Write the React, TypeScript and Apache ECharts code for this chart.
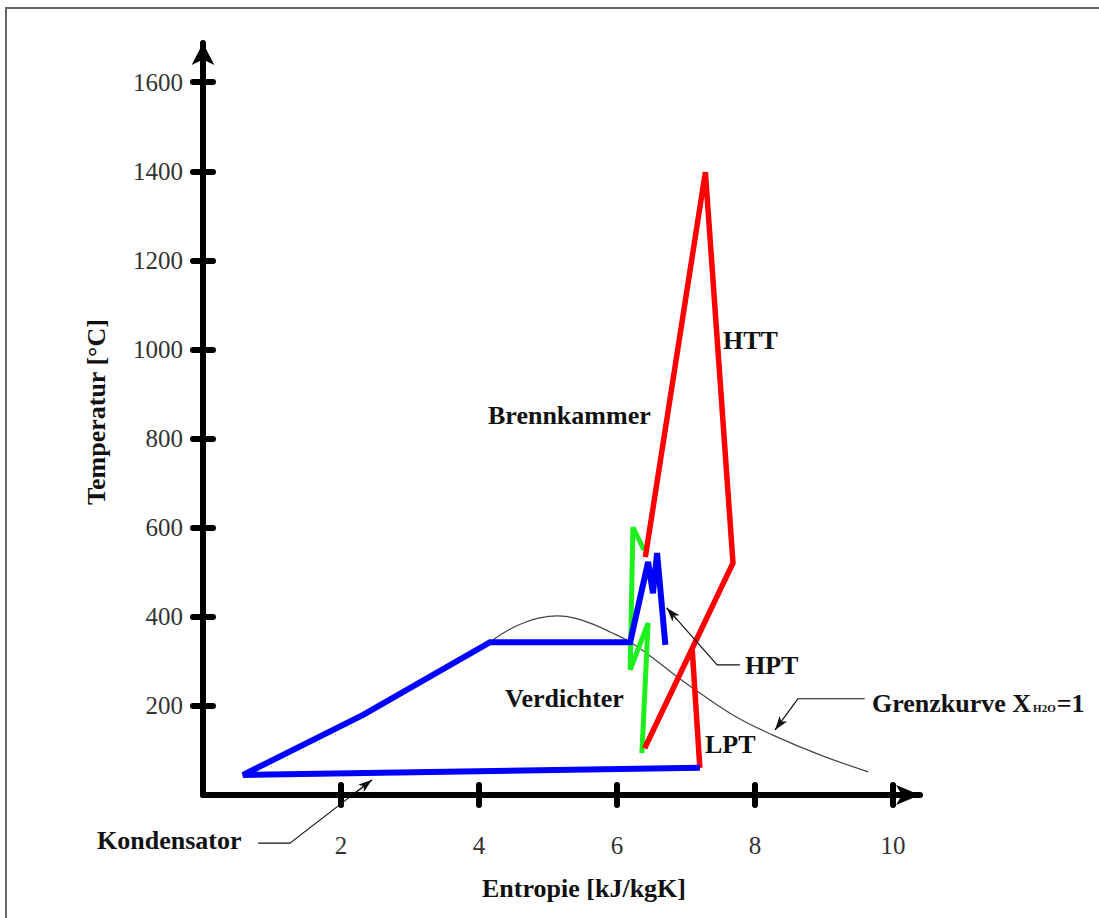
import React, { useEffect, useRef } from "react";
import * as echarts from "echarts";

// ---- Data (entropy s in kJ/kgK, temperature T in °C) ----
const xTicks = [2, 4, 6, 8, 10];
const yTicks = [200, 400, 600, 800, 1000, 1200, 1400, 1600];

// Steam cycle (blue)
const steamS = [7.2, 0.58, 2.32, 4.16, 6.19, 6.45, 6.52, 6.58, 6.7];
const steamT = [61, 45, 180, 343, 343, 523, 453, 543, 337];

// Compressor with intercooling (green)
const compS = [6.39, 6.23, 6.19, 6.45, 6.36];
const compT = [550, 601, 281, 386, 94];

// Combustion chamber, HTT, cooling (red)
const gasS = [6.41, 7.28, 7.68, 6.4];
const gasT = [534, 1398, 521, 105];

// LPT (red)
const lptS = [7.09, 7.2];
const lptT = [325, 61];

// Saturation curve x(H2O)=1
const domeS = [4.2, 4.42, 4.64, 4.86, 5.14, 5.39, 5.64, 5.90, 6.16, 6.48, 6.84, 7.2, 7.71, 8.25, 8.94, 9.64];
const domeT = [348, 370, 386, 397, 402, 397, 384, 366, 346, 312, 269, 229, 177, 135, 90, 52];

// Leader lines (label -> target)
const hptLeader = [[7.78, 292], [7.45, 292], [6.72, 420]];
const grenzLeader = [[9.59, 216], [8.62, 216], [8.29, 146]];
const kondLeader = [[0.8, -108], [1.26, -108], [2.45, 34]];

const X_MAX = 10.39;
const Y_MAX = 1688;

const FONT = '"Liberation Serif", "Times New Roman", serif';

const zip = (a: number[], b: number[]) => a.map((v, i) => [v, b[i]]);

function leaderSeries(name: string, pts: number[][]) {
  const a = pts[pts.length - 2];
  const b = pts[pts.length - 1];
  const start = [a[0] + 0.8 * (b[0] - a[0]), a[1] + 0.8 * (b[1] - a[1])];
  return {
    type: "line",
    name,
    data: pts,
    clip: false,
    showSymbol: false,
    lineStyle: { color: "#111", width: 1.2 },
    z: 5,
    markLine: {
      silent: true,
      symbol: ["none", "arrow"],
      symbolSize: [7, 14],
      label: { show: false },
      lineStyle: { color: "#111", width: 1.2, type: "solid" },
      itemStyle: { color: "#111" },
      data: [[{ coord: start }, { coord: b }]],
    },
  };
}

export default function App() {
  const ref = useRef<HTMLDivElement>(null);
  useEffect(() => {
    if (!ref.current) return;
    const chart = echarts.init(ref.current, null, { renderer: "svg" });
    const axisLineStyle = { color: "#000", width: 6 };
    const tickStyle = { color: "#000", width: 6, cap: "round" };
    const boldFont = `bold 26px ${FONT}`;
    const txt = (text: string, x: number, y: number) => ({
      type: "text",
      x,
      y,
      style: { text, font: boldFont, fill: "#111", align: "left", verticalAlign: "middle" },
    });
    const fmt = (v: number) => String(v);
    const option: any = {
      animation: false,
      backgroundColor: "#fff",
      grid: { left: 203, top: 43, width: 717, height: 752, containLabel: false },
      xAxis: [
        {
          type: "value",
          min: 0,
          max: X_MAX,
          interval: 2,
          position: "bottom",
          axisLine: { show: true, onZero: false, symbol: ["none", "arrow"], symbolSize: [15, 24], lineStyle: axisLineStyle },
          axisTick: { show: true, customValues: xTicks, inside: false, length: 10, lineStyle: tickStyle },
          axisLabel: { customValues: xTicks, formatter: fmt, margin: 38, fontSize: 25, fontFamily: FONT, color: "#333" },
          splitLine: { show: false },
        },
        {
          type: "value",
          min: 0,
          max: X_MAX,
          interval: 2,
          position: "bottom",
          axisLine: { show: false, onZero: false },
          axisTick: { show: true, customValues: xTicks, inside: true, length: 10, lineStyle: tickStyle },
          axisLabel: { show: false },
          splitLine: { show: false },
        },
      ],
      yAxis: [
        {
          type: "value",
          min: 0,
          max: Y_MAX,
          interval: 200,
          position: "left",
          axisLine: { show: true, onZero: false, symbol: ["none", "arrow"], symbolSize: [17, 22], lineStyle: axisLineStyle },
          axisTick: { show: true, customValues: yTicks, inside: false, length: 10, lineStyle: tickStyle },
          axisLabel: { customValues: yTicks, formatter: fmt, margin: 20, fontSize: 25, fontFamily: FONT, color: "#333" },
          splitLine: { show: false },
        },
        {
          type: "value",
          min: 0,
          max: Y_MAX,
          interval: 200,
          position: "left",
          axisLine: { show: false, onZero: false },
          axisTick: { show: true, customValues: yTicks, inside: true, length: 10, lineStyle: tickStyle },
          axisLabel: { show: false },
          splitLine: { show: false },
        },
      ],
      series: [
        {
          type: "line",
          name: "Grenzkurve",
          data: zip(domeS, domeT),
          smooth: 0.4,
          showSymbol: false,
          lineStyle: { color: "#444", width: 1.2 },
          z: 1,
        },
        {
          type: "line",
          name: "Verdichter",
          data: zip(compS, compT),
          showSymbol: false,
          lineStyle: { color: "#1ef01e", width: 5, join: "miter", miterLimit: 3 },
          z: 2,
        },
        {
          type: "line",
          name: "Gasturbine",
          data: zip(gasS, gasT),
          showSymbol: false,
          lineStyle: { color: "#ff0000", width: 5.5, join: "miter", miterLimit: 3 },
          z: 3,
        },
        {
          type: "line",
          name: "LPT",
          data: zip(lptS, lptT),
          showSymbol: false,
          lineStyle: { color: "#ff0000", width: 5.5 },
          z: 3,
        },
        {
          type: "line",
          name: "Dampf",
          data: zip(steamS, steamT),
          showSymbol: false,
          lineStyle: { color: "#0000ff", width: 6, join: "miter", miterLimit: 4 },
          z: 4,
        },
        leaderSeries("HPT leader", hptLeader),
        leaderSeries("Grenzkurve leader", grenzLeader),
        leaderSeries("Kondensator leader", kondLeader),
      ],
      graphic: [
        {
          type: "rect",
          shape: { x: 6, y: 8, width: 1200, height: 1000 },
          style: { fill: "none", stroke: "#666", lineWidth: 2 },
          silent: true,
        },
        txt("Brennkammer", 488, 415),
        txt("HTT", 723, 340),
        txt("HPT", 745, 665),
        txt("LPT", 705, 744),
        txt("Verdichter", 505, 698),
        txt("Kondensator", 97, 840),
        {
          type: "text",
          x: 872,
          y: 703,
          style: {
            text: "{a|Grenzkurve X}{s|H2O}{a|=1}",
            align: "left",
            verticalAlign: "middle",
            fill: "#111",
            rich: {
              a: { font: boldFont, fill: "#111" },
              s: { font: `bold 11px ${FONT}`, fill: "#111", verticalAlign: "bottom", padding: [0, 1, 3, 2] },
            },
          },
        },
        {
          type: "text",
          x: 584,
          y: 888,
          style: { text: "Entropie [kJ/kgK]", font: boldFont, fill: "#111", align: "center", verticalAlign: "middle" },
        },
        {
          type: "text",
          x: 96,
          y: 412,
          rotation: Math.PI / 2,
          style: { text: "Temperatur [°C]", font: boldFont, fill: "#111", align: "center", verticalAlign: "middle" },
        },
      ],
    };
    chart.setOption(option);
    return () => chart.dispose();
  }, []);
  return (
    <div
      ref={ref}
      style={{ position: "fixed", left: 0, top: 0, width: 1099, height: 918, background: "#fff" }}
    />
  );
}
